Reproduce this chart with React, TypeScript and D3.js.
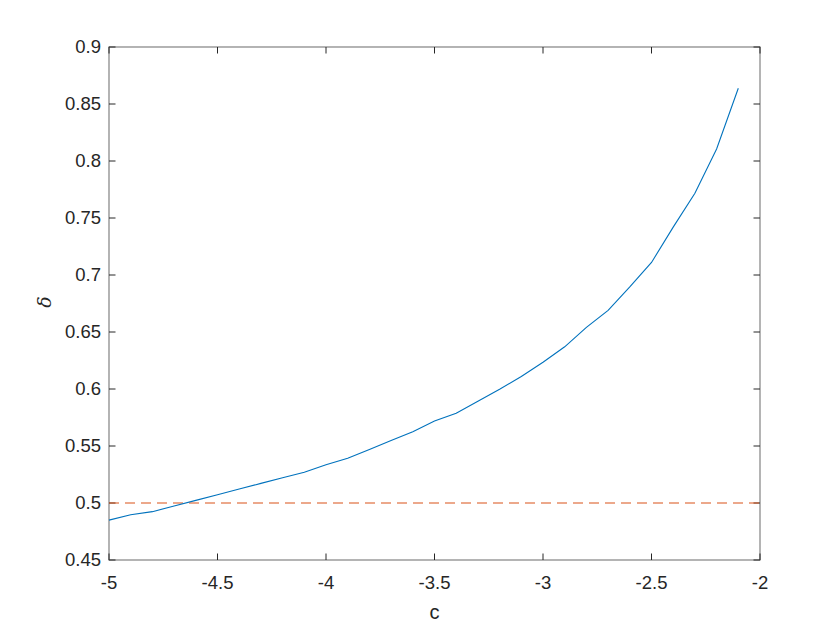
import React from "react";
import * as d3 from "d3";

const cValues = [-5.0, -4.9, -4.8, -4.7, -4.6, -4.5, -4.4, -4.3, -4.2, -4.1, -4.0, -3.9, -3.8, -3.7, -3.6, -3.5, -3.4, -3.3, -3.2, -3.1, -3.0, -2.9, -2.8, -2.7, -2.6, -2.5, -2.4, -2.3, -2.2, -2.1];
const deltaValues = [0.485, 0.4897, 0.4924, 0.4974, 0.5023, 0.5073, 0.5122, 0.5172, 0.5221, 0.527, 0.5335, 0.5392, 0.547, 0.5548, 0.5626, 0.572, 0.5787, 0.5892, 0.5997, 0.611, 0.6235, 0.637, 0.654, 0.669, 0.6895, 0.711, 0.742, 0.7717, 0.8105, 0.8638];
const thresholdValue = 0.5;
const xTicks = [-5, -4.5, -4, -3.5, -3, -2.5, -2];
const yTicks = [0.45, 0.5, 0.55, 0.6, 0.65, 0.7, 0.75, 0.8, 0.85, 0.9];
const xDomain = [-5, -2];
const yDomain = [0.45, 0.9];
const xLabel = "c";
const yLabel = "δ";

export default function App() {
  const W = 840, H = 630;
  const left = 109, right = 760, top = 47, bottom = 560;
  const x = d3.scaleLinear().domain(xDomain).range([left, right]);
  const y = d3.scaleLinear().domain(yDomain).range([bottom, top]);
  const line = d3.line<number>().x((_, i) => x(cValues[i])).y((d) => y(d));
  const tickLen = 6.5;
  const axisColor = "#8c8c8c";
  const textColor = "#262626";
  const font = "'Liberation Sans', Arial, Helvetica, sans-serif";
  const fmt = (v: number) => String(v);
  return (
    <svg width={W} height={H} style={{ position: "absolute", left: 0, top: 0, background: "#fff" }}>
      <rect x={0} y={0} width={W} height={H} fill="#fff" />
      {/* box */}
      <rect x={left} y={top} width={right - left} height={bottom - top} fill="#fff" stroke={axisColor} strokeWidth={1.3} />
      {/* x ticks */}
      {xTicks.map((t) => (
        <g key={"x" + t}>
          <line x1={x(t)} x2={x(t)} y1={bottom} y2={bottom - tickLen} stroke={textColor} strokeWidth={1} />
          <line x1={x(t)} x2={x(t)} y1={top} y2={top + tickLen} stroke={textColor} strokeWidth={1} />
          <text x={x(t)} y={589} textAnchor="middle" fontFamily={font} fontSize={18.5} fill={textColor}>{fmt(t)}</text>
        </g>
      ))}
      {yTicks.map((t) => (
        <g key={"y" + t}>
          <line x1={left} x2={left + tickLen} y1={y(t)} y2={y(t)} stroke={textColor} strokeWidth={1} />
          <line x1={right} x2={right - tickLen} y1={y(t)} y2={y(t)} stroke={textColor} strokeWidth={1} />
          <text x={101} y={y(t)} dy="0.35em" textAnchor="end" fontFamily={font} fontSize={18.5} fill={textColor}>{fmt(t)}</text>
        </g>
      ))}
      {/* threshold */}
      <line x1={x(xDomain[0])} x2={x(xDomain[1])} y1={y(thresholdValue)} y2={y(thresholdValue)} stroke="#D95319" strokeWidth={1.1} strokeDasharray="10,6" />
      {/* curve */}
      <path d={line(deltaValues) || ""} fill="none" stroke="#0072BD" strokeWidth={1.1} />
      {/* labels */}
      <text x={(left + right) / 2} y={619} textAnchor="middle" fontFamily={font} fontSize={20} fill={textColor}>{xLabel}</text>
      <text transform={`translate(51,302) rotate(-90)`} textAnchor="middle" fontFamily="'DejaVu Serif', 'Liberation Serif', serif" fontStyle="italic" fontSize={19} fill={textColor}>{yLabel}</text>
    </svg>
  );
}
